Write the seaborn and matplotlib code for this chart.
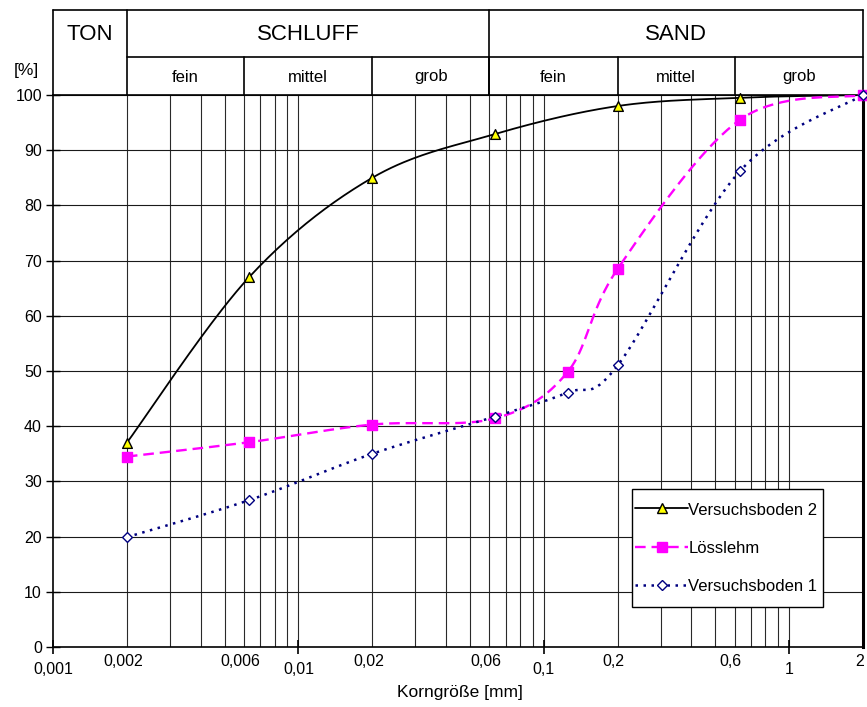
import numpy as np
import pandas as pd
import matplotlib
matplotlib.use("Agg")
import matplotlib.pyplot as plt
import seaborn as sns
from matplotlib.lines import Line2D
from matplotlib.patches import Rectangle
from matplotlib.transforms import blended_transform_factory

# ---------------- data ----------------
grain_sizes = [0.002, 0.0063, 0.02, 0.063, 0.2, 0.63, 2.0]
boden2 = [37.0, 67.0, 85.0, 92.9, 98.0, 99.5, 100.0]
loess_x = [0.002, 0.0063, 0.02, 0.063, 0.125, 0.2, 0.63, 2.0]
loess = [34.5, 37.1, 40.3, 41.4, 49.8, 68.5, 95.5, 100.0]
boden1_x = [0.002, 0.0063, 0.02, 0.063, 0.125, 0.2, 0.63, 2.0]
boden1 = [19.9, 26.6, 35.0, 41.7, 46.1, 51.0, 86.2, 100.0]

series_names = ["Versuchsboden 2", "Lösslehm", "Versuchsboden 1"]

major_labels = ["0,001", "0,01", "0,1", "1"]
major_vals = [0.001, 0.01, 0.1, 1.0]
minor_labels = ["0,002", "0,006", "0,02", "0,06", "0,2", "0,6", "2"]
minor_vals = [0.002, 0.006, 0.02, 0.06, 0.2, 0.6, 2.0]

top_groups = ["TON", "SCHLUFF", "SAND"]
top_bounds = [0.001, 0.002, 0.06, 2.0]
sub_groups = ["fein", "mittel", "grob", "fein", "mittel", "grob"]
sub_bounds = [0.002, 0.006, 0.02, 0.06, 0.2, 0.6, 2.0]


def smooth(xs, ys, n=40):
    # Excel-like smoothed line (Catmull-Rom Bezier) in screen-proportional space
    u = np.log10(np.asarray(xs, float)) * 245.0
    v = np.asarray(ys, float) * 5.52
    P = np.column_stack([u, v])
    out = []
    m = len(P)
    for i in range(m - 1):
        p0 = P[i - 1] if i > 0 else P[i]
        p1, p2 = P[i], P[i + 1]
        p3 = P[i + 2] if i + 2 < m else P[i + 1]
        c1 = p1 + (p2 - p0) / 6.0
        c2 = p2 - (p3 - p1) / 6.0
        t = np.linspace(0, 1, n)[:, None]
        seg = ((1 - t) ** 3) * p1 + 3 * ((1 - t) ** 2) * t * c1 + 3 * (1 - t) * t ** 2 * c2 + t ** 3 * p2
        out.append(seg if i == 0 else seg[1:])
    S = np.vstack(out)
    return 10 ** (S[:, 0] / 245.0), S[:, 1] / 5.52


sns.set_style("ticks")
plt.rcParams["font.family"] = ["Liberation Sans", "DejaVu Sans"]
plt.rcParams["text.color"] = "black"
plt.rcParams["xtick.labelcolor"] = "black"
plt.rcParams["ytick.labelcolor"] = "black"

W, H = 867, 707
fig = plt.figure(figsize=(W / 100, H / 100), dpi=100)
ax = fig.add_axes([53 / W, 60 / H, 810 / W, 552 / H])
ax.set_xscale("log")
ax.set_xlim(0.001, 2.0)
ax.set_ylim(0, 100)

# grid
for d in [0.001, 0.01, 0.1, 1.0]:
    for k in range(1, 10):
        xv = d * k
        if 0.001 < xv < 2.0:
            ax.axvline(xv, color="#2a2a2a", lw=0.8, zorder=0.5)
for yv in range(10, 101, 10):
    ax.axhline(yv, color="#1a1a1a", lw=0.8, zorder=0.5)

styles = [
    dict(color="black", ls="-", lw=1.3, marker="^", mfc="#ffff00", mec="black", ms=7),
    dict(color="#ff00ff", ls=(0, (4.5, 2.5)), lw=1.7, marker="s", mfc="#ff00ff", mec="#ff00ff", ms=6.5),
    dict(color="#000080", ls=(0, (1.0, 2.2)), lw=1.8, marker="D", mfc="white", mec="#000080", ms=5),
]
datasets = [(grain_sizes, boden2), (loess_x, loess), (boden1_x, boden1)]

for name, (xs, ys), st in zip(series_names, datasets, styles):
    sx, sy = smooth(xs, ys)
    df = pd.DataFrame({"x": sx, "y": sy})
    sns.lineplot(data=df, x="x", y="y", ax=ax, sort=False, estimator=None,
                 color=st["color"], linestyle=st["ls"], lw=st["lw"], zorder=3)
    pts = pd.DataFrame({"x": xs, "y": ys})
    sns.scatterplot(data=pts, x="x", y="y", ax=ax, marker=st["marker"], s=st["ms"] ** 2 * 1.0,
                    color=st["mfc"], edgecolor=st["mec"], linewidth=1.0, zorder=4, clip_on=False)

ax.set_xlabel("")
ax.set_ylabel("")

# spines
for s in ["left", "bottom"]:
    ax.spines[s].set_color("black")
    ax.spines[s].set_linewidth(1.2)
ax.spines["right"].set_linewidth(2.2)
ax.spines["right"].set_color("black")
ax.spines["top"].set_linewidth(1.2)
ax.spines["top"].set_color("black")

# ticks
ax.set_xticks(major_vals)
ax.set_xticklabels([])
ax.xaxis.set_minor_locator(matplotlib.ticker.NullLocator())
ax.tick_params(axis="x", which="major", direction="inout", length=10, width=1.2, color="black")
ax.set_yticks(range(0, 101, 10))
ax.set_yticklabels([str(v) for v in range(0, 101, 10)], fontsize=11.5)
ax.tick_params(axis="y", direction="inout", length=10, width=1.0, color="black", pad=3)

bt = blended_transform_factory(ax.transData, fig.transFigure)
for lab, xv in zip(major_labels, major_vals):
    ax.text(xv, 1 - 669 / H, lab, transform=bt, ha="center", va="center", fontsize=11.5)
for lab, xv in zip(minor_labels, minor_vals):
    ax.text(xv * 0.965, 1 - 662 / H, lab, transform=bt, ha="center", va="center", fontsize=11.5)
fig.text(460 / W, 1 - 692 / H, "Korngröße [mm]", ha="center", va="center", fontsize=12.5)
fig.text(26 / W, 1 - 70 / H, "[%]", ha="center", va="center", fontsize=12.5)

# header table
ht = blended_transform_factory(ax.transData, fig.transFigure)
y_top = 1 - 10 / H
y_mid = 1 - 57 / H
y_bot = 1 - 95 / H
lk = dict(color="black", lw=1.2, transform=ht, clip_on=False)
ax.plot([0.001, 2.0], [y_top, y_top], **lk)
ax.plot([0.001, 0.001], [y_bot, y_top], **lk)
ax.plot([2.0, 2.0], [y_bot, y_top], **lk)
ax.plot([0.002, 2.0], [y_mid, y_mid], **lk)
for b in top_bounds[1:-1]:
    ax.plot([b, b], [y_bot, y_top], **lk)
for b in sub_bounds[1:-1]:
    ax.plot([b, b], [y_bot, y_mid], **lk)
for i, lab in enumerate(top_groups):
    xc = np.sqrt(top_bounds[i] * top_bounds[i + 1])
    ax.text(xc, 1 - 34 / H, lab, transform=ht, ha="center", va="center", fontsize=16)
for i, lab in enumerate(sub_groups):
    xc = np.sqrt(sub_bounds[i] * sub_bounds[i + 1])
    ax.text(xc, 1 - 77 / H, lab, transform=ht, ha="center", va="center", fontsize=12)

# legend frame (drawn separately for exact box size)
frame = Rectangle((632 / W, 1 - 607 / H), (823 - 632) / W, (607 - 489) / H,
                  transform=fig.transFigure, facecolor="white", edgecolor="black",
                  lw=1.0, zorder=9, clip_on=False)
ax.add_patch(frame)

handles = [Line2D([], [], color=st["color"], linestyle=st["ls"], lw=st["lw"], marker=st["marker"],
                  markerfacecolor=st["mfc"], markeredgecolor=st["mec"], markersize=st["ms"])
           for st in styles]
leg = ax.legend(handles, series_names, loc="upper left",
                bbox_to_anchor=(635 / W, 1 - 502 / H), bbox_transform=fig.transFigure,
                fontsize=12, frameon=False,
                handlelength=3.2, labelspacing=1.35, borderpad=0.0, handletextpad=0.0,
                borderaxespad=0, handleheight=0.9)
leg.set_zorder(10)

fig.savefig("out.png", dpi=100)
